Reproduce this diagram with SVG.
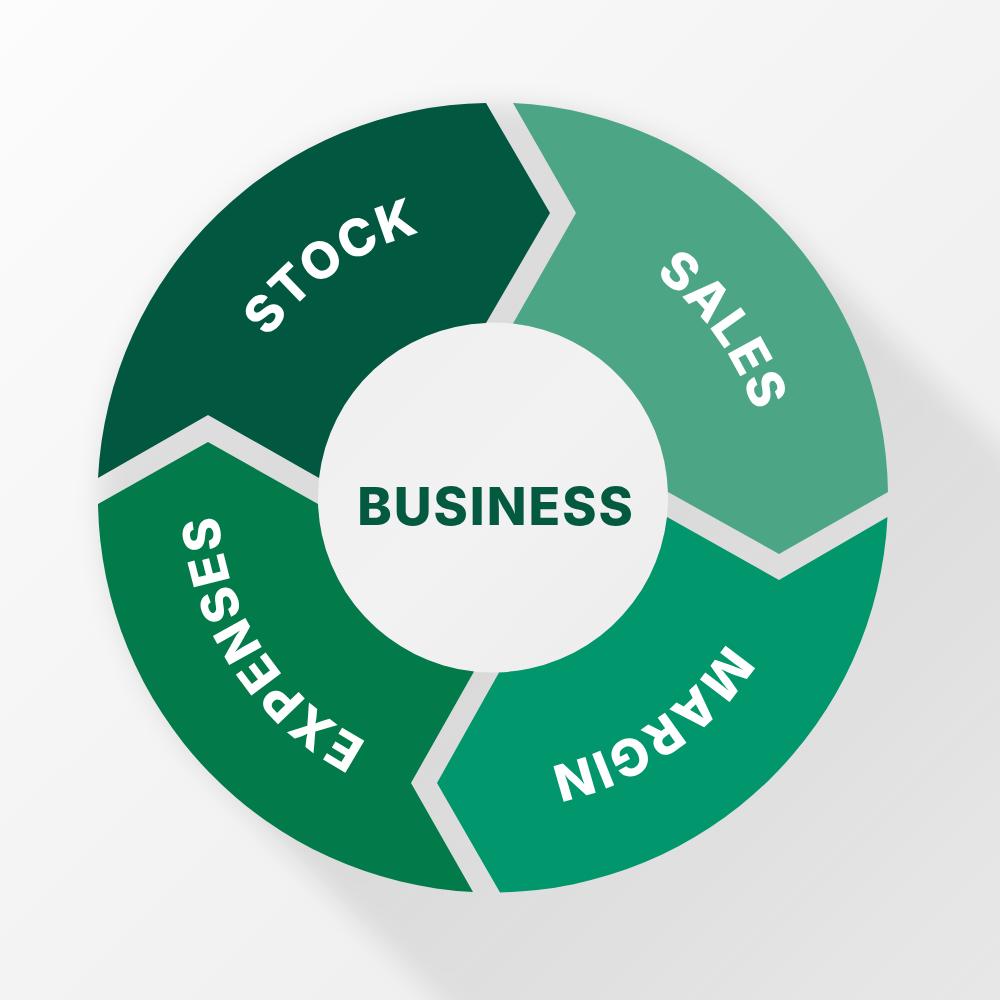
<svg xmlns="http://www.w3.org/2000/svg" xmlns:xlink="http://www.w3.org/1999/xlink" width="1000" height="1000" viewBox="0 0 1000 1000">
  <style>
    .seg-label { font-family: Inter, "Liberation Sans", sans-serif; font-weight: 800; font-size: 51px; fill: #ffffff; letter-spacing: 1.5px; }
    .center-label { font-family: Inter, "Liberation Sans", sans-serif; font-weight: 800; font-size: 52px; fill: #045A40; letter-spacing: 2px; }
  </style>
  <defs>
    <linearGradient id="bg" x1="0" y1="0" x2="1" y2="1">
      <stop offset="0" stop-color="#fcfcfc"/>
      <stop offset="0.5" stop-color="#f3f3f3"/>
      <stop offset="1" stop-color="#ebebeb"/>
    </linearGradient>
    <linearGradient id="shadowGrad" gradientUnits="userSpaceOnUse" x1="560" y1="560" x2="1060" y2="1060">
      <stop offset="0" stop-color="#000" stop-opacity="0.10"/>
      <stop offset="0.5" stop-color="#000" stop-opacity="0.055"/>
      <stop offset="1" stop-color="#000" stop-opacity="0.0"/>
    </linearGradient>
    <linearGradient id="holeGrad" x1="0" y1="0" x2="1" y2="1">
      <stop offset="0" stop-color="#efefef"/>
      <stop offset="0.5" stop-color="#f2f2f2"/>
      <stop offset="1" stop-color="#ececec"/>
    </linearGradient>
    <filter id="soft" x="-20%" y="-20%" width="140%" height="140%">
      <feGaussianBlur stdDeviation="12"/>
    </filter>
    <path id="ring" d="M 768,497.5 A 275 275 0 1 1 218,497.5 A 275 275 0 1 1 768,497.5"/>
  </defs>

  <rect x="0" y="0" width="1000" height="1000" fill="url(#bg)"/>

  <g id="long-shadow">
    <path d="M 772.3,218.2 L 1572.3,1018.2 L 1013.7,1576.8 L 213.7,776.8 A 395 395 0 0 1 772.3,218.2 Z" fill="url(#shadowGrad)" filter="url(#soft)"/>
  </g>

  <g id="hole">
    <circle cx="493" cy="497.5" r="175" fill="url(#holeGrad)"/>
  </g>

  <g id="node-stock">
    <path d="M 98,478 A 395 395 0 0 1 486,103 L 550,213 L 486,323 A 175 175 0 0 0 319,478 L 208,415 Z" fill="#025740"/>
    <text class="seg-label" text-anchor="middle"><textPath xlink:href="#ring" href="#ring" startOffset="65.3%">STOCK</textPath></text>
  </g>

  <g id="node-sales">
    <path d="M 513,103 A 395 395 0 0 1 888,492 L 779,554 L 668,492 A 175 175 0 0 0 513,323.5 L 576,213 Z" fill="#4CA686"/>
    <text class="seg-label" text-anchor="middle"><textPath xlink:href="#ring" href="#ring" startOffset="90%">SALES</textPath></text>
  </g>

  <g id="node-margin">
    <path d="M 887.5,517 A 395 395 0 0 1 500,892.4 L 437,783 L 499,672.4 A 175 175 0 0 0 667,517 L 779,580 Z" fill="#02966C"/>
    <text class="seg-label" text-anchor="middle"><textPath xlink:href="#ring" href="#ring" startOffset="15.3%">MARGIN</textPath></text>
  </g>

  <g id="node-expenses">
    <path d="M 473,892 A 395 395 0 0 1 98,504 L 208,442 L 318,504 A 175 175 0 0 0 474,671.5 L 411,783 Z" fill="#037A4A"/>
    <text class="seg-label" text-anchor="middle"><textPath xlink:href="#ring" href="#ring" startOffset="40.8%">EXPENSES</textPath></text>
  </g>

  <g id="node-business">
    <text class="center-label" x="496" y="525" text-anchor="middle">BUSINESS</text>
  </g>

  <g id="connectors"></g>
</svg>
